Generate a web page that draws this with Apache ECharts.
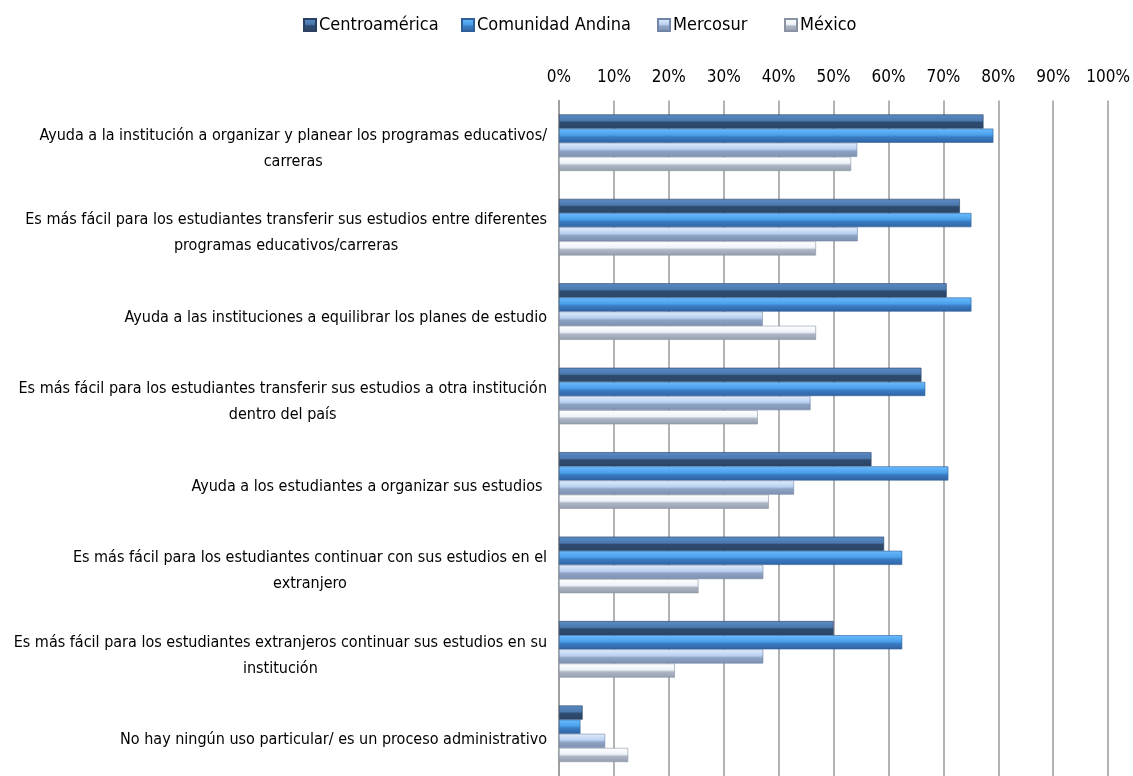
<!DOCTYPE html>
<html>
<head>
<meta charset="utf-8">
<script src="https://cdn.jsdelivr.net/npm/echarts@6/dist/echarts.min.js"></script>
<style>
html,body{margin:0;padding:0;background:#fff;}
#chart{width:1133px;height:776px;}
</style>
</head>
<body>
<div id="chart"></div>
<script>
const categories = [
  "Ayuda a la institución a organizar y planear los programas educativos/\ncarreras",
  "Es más fácil para los estudiantes transferir sus estudios entre diferentes\nprogramas educativos/carreras",
  "Ayuda a las instituciones a equilibrar los planes de estudio",
  "Es más fácil para los estudiantes transferir sus estudios a otra institución\ndentro del país",
  "Ayuda a los estudiantes a organizar sus estudios ",
  "Es más fácil para los estudiantes continuar con sus estudios en el\nextranjero",
  "Es más fácil para los estudiantes extranjeros continuar sus estudios en su\ninstitución",
  "No hay ningún uso particular/ es un proceso administrativo"
];
const seriesNames = ["Centroamérica", "Comunidad Andina", "Mercosur", "México"];
const centroamerica = [77.3, 73.0, 70.6, 66.0, 56.9, 59.2, 50.0, 4.3];
const comunidadAndina = [79.1, 75.1, 75.1, 66.7, 70.9, 62.5, 62.5, 3.9];
const mercosur = [54.3, 54.4, 37.1, 45.8, 42.8, 37.2, 37.2, 8.4];
const mexico = [53.2, 46.8, 46.8, 36.2, 38.2, 25.4, 21.1, 12.6];
const tickLabels = ["0%","10%","20%","30%","40%","50%","60%","70%","80%","90%","100%"];

const FONT = '"Liberation Sans Narrow", "DejaVu Sans Condensed", "Roboto", sans-serif';

function grad(stops) {
  return new echarts.graphic.LinearGradient(0, 0, 0, 1, stops.map((c) => ({offset: c[0], color: c[1]})));
}
const styles = [
  {color: grad([[0,'#5b8cc6'],[0.45,'#4a78ae'],[0.55,'#2f4c70'],[1,'#2a4566']]), borderColor: '#2a4060'},
  {color: grad([[0,'#6cbcff'],[0.45,'#4aa0ea'],[0.6,'#3a7cc4'],[1,'#2f62a0']]), borderColor: '#2d5f98'},
  {color: grad([[0,'#e2eefc'],[0.45,'#b8d0f0'],[0.6,'#8ea3c4'],[1,'#7d90b0']]), borderColor: '#6f84a6'},
  {color: grad([[0,'#ffffff'],[0.45,'#eef2f8'],[0.6,'#aeb6c4'],[1,'#959eae']]), borderColor: '#8a93a3'}
];
const dataSets = [centroamerica, comunidadAndina, mercosur, mexico];
const legendLefts = [298, 456, 652, 779];

const chart = echarts.init(document.getElementById('chart'));
chart.setOption({
  animation: false,
  backgroundColor: '#fff',
  textStyle: {fontFamily: FONT},
  legend: seriesNames.map((n, i) => ({
    top: 11,
    left: legendLefts[i],
    itemWidth: 12,
    itemHeight: 12,
    itemGap: 0,
    icon: 'rect',
    textStyle: {fontFamily: FONT, fontSize: 18, color: '#000', padding: [0, 0, 0, -2]},
    data: [n]
  })),
  grid: {left: 559, right: 22, top: 100.5, bottom: -5, containLabel: false},
  xAxis: {
    type: 'value',
    position: 'top',
    min: 0, max: 100, interval: 10,
    axisLine: {show: false},
    axisTick: {show: false},
    axisLabel: {
      margin: 14,
      fontFamily: FONT, fontSize: 17, color: '#000',
      formatter: v => tickLabels[Math.round(v / 10)]
    },
    splitLine: {show: true, lineStyle: {color: '#9a9a9a', width: 1.5}}
  },
  yAxis: {
    type: 'category',
    inverse: true,
    data: categories,
    axisLine: {show: true, lineStyle: {color: '#9a9a9a', width: 1.5}},
    axisTick: {show: false},
    axisLabel: {
      margin: 12,
      align: 'right',
      padding: [12, 0, 0, 0],
      formatter: v => v.split('\n').map(l => '{c|' + l + '}').join('\n'),
      rich: {c: {align: 'center', fontFamily: FONT, fontSize: 16, lineHeight: 26, color: '#000'}}
    }
  },
  series: seriesNames.map((n, i) => ({
    name: n,
    type: 'bar',
    data: dataSets[i],
    barGap: '0%',
    barCategoryGap: '33%',
    itemStyle: {color: styles[i].color, borderColor: styles[i].borderColor, borderWidth: 0.6}
  }))
});
</script>
</body>
</html>
